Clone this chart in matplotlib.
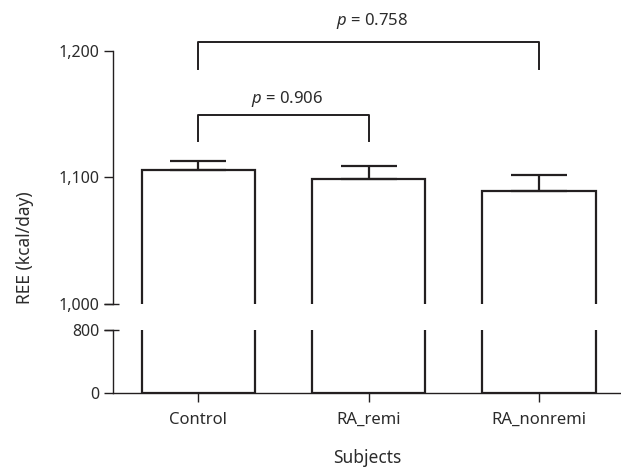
import matplotlib
matplotlib.use('Agg')
import matplotlib.pyplot as plt

plt.rcParams['font.family'] = ['Noto Sans', 'DejaVu Sans']
plt.rcParams['mathtext.fontset'] = 'custom'
plt.rcParams['mathtext.it'] = 'Noto Sans:italic'
plt.rcParams['mathtext.rm'] = 'Noto Sans'

groups = ['Control', 'RA_remi', 'RA_nonremi']
ree = [1106, 1099, 1089]
err_up = [7, 10, 13]
upper_ticks = [1000, 1100, 1200]
upper_labels = ['1,000', '1,100', '1,200']
lower_ticks = [0, 800]
lower_labels = ['0', '800']
# significance brackets: (left group, right group, top, leg bottom, label)
brackets = [(0, 2, 1207, 1186, '0.758'), (0, 1, 1149.5, 1129, '0.906')]
label_y = [1224, 1162]

col = '#231f20'
txt = '#2b2b2b'
W, H = 621, 469
fig = plt.figure(figsize=(W / 100, H / 100), dpi=100)

left = 113 / W
ax_hi = fig.add_axes([left, (H - 304) / H, 1 - left, 253 / H])
ax_lo = fig.add_axes([left, (H - 393) / H, 1 - left, 63 / H])

x = range(len(groups))
for ax in (ax_hi, ax_lo):
    ax.bar(x, ree, width=0.665, color='white', edgecolor=col, linewidth=1.6)
    ax.set_xlim(-0.5, 2.48)
    for s in ['top', 'right']:
        ax.spines[s].set_visible(False)
    ax.spines['left'].set_linewidth(1.0)
    ax.spines['left'].set_color(col)
    ax.tick_params(axis='y', length=6.5, width=1.0, color=col, labelsize=11.5,
                   labelcolor=txt, pad=3)

ax_hi.errorbar(x, ree, yerr=[[0, 0, 0], err_up], fmt='none', ecolor=col,
               elinewidth=1.6, capsize=20.5, capthick=1.6)
ax_hi.set_ylim(1000, 1200)
ax_hi.spines['bottom'].set_visible(False)
ax_hi.set_xticks([])
ax_hi.set_yticks(upper_ticks)
ax_hi.set_yticklabels(upper_labels)

ax_lo.set_ylim(0, 800)
ax_lo.spines['bottom'].set_linewidth(1.0)
ax_lo.spines['bottom'].set_color(col)
ax_lo.set_yticks(lower_ticks)
ax_lo.set_yticklabels(lower_labels)
ax_lo.set_xticks(list(x))
ax_lo.set_xticklabels(groups)
ax_lo.tick_params(axis='x', length=6.5, width=1.0, color=col, labelsize=12,
                  labelcolor=txt, pad=7)
ax_lo.set_xlabel('Subjects', fontsize=12.5, color=txt, labelpad=15)

# break marks on the y axis
for ax, yv in ((ax_hi, 1000), (ax_lo, 800)):
    ax.plot([-0.018, 0.012], [yv, yv], transform=ax.get_yaxis_transform(),
            color=col, lw=1.0, clip_on=False, solid_capstyle='butt')

for (i, j, top, bot, lab), ty in zip(brackets, label_y):
    ax_hi.plot([i, i, j, j], [bot, top, top, bot], color=col, lw=1.4,
               clip_on=False)
    ax_hi.text((i + j) / 2 + 0.02, ty, r'$p$ = ' + lab, ha='center',
               va='center', fontsize=12, color=txt)

fig.text(25 / W, (H - 248) / H, 'REE (kcal/day)', rotation=90, ha='center',
         va='center', fontsize=12.5, color=txt)

fig.savefig('out.png', dpi=100)
